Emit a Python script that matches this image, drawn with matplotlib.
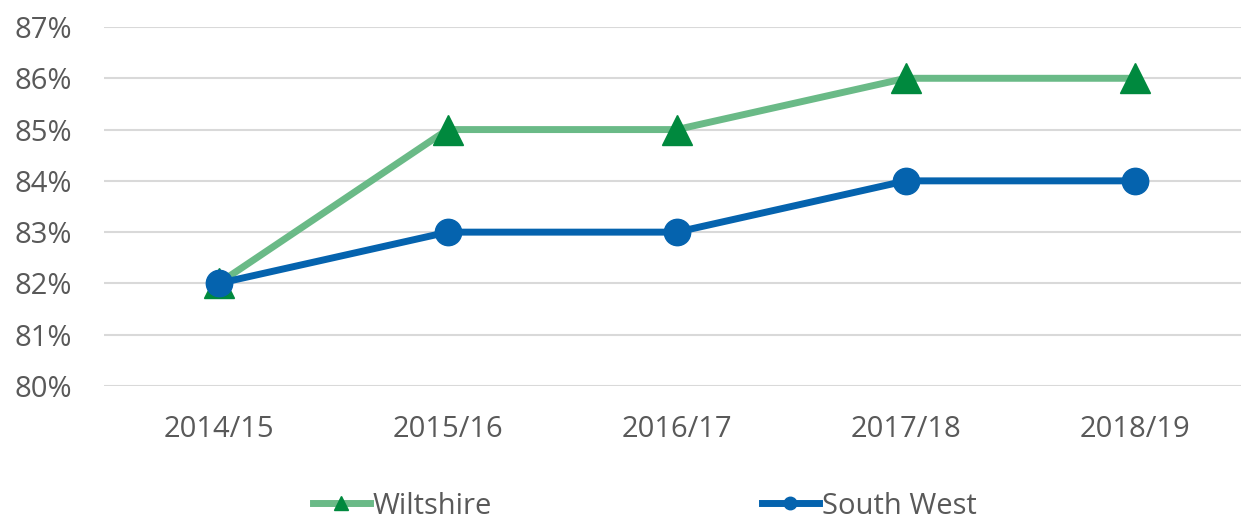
import matplotlib
matplotlib.use("Agg")
import matplotlib.pyplot as plt
from matplotlib.lines import Line2D
from matplotlib.ticker import FuncFormatter

years = ["2014/15", "2015/16", "2016/17", "2017/18", "2018/19"]
wiltshire = [82, 85, 85, 86, 86]
south_west = [82, 83, 83, 84, 84]
series_names = ["Wiltshire", "South West"]

plt.rcParams['font.family'] = ['Open Sans', 'DejaVu Sans']
text_col = "#595959"
green_line = "#6ABA87"
green_mark = "#00893E"
blue = "#0563AE"

W, H = 1241, 521
fig = plt.figure(figsize=(W / 100, H / 100), dpi=100)
ax = fig.add_axes([104 / W, 1 - 386 / H, (1241 - 104) / W, (386 - 27) / H])

x = list(range(len(years)))
ax.plot(x, wiltshire, color=green_line, lw=5, marker='^', ms=21,
        mfc=green_mark, mec=green_mark, zorder=3, solid_capstyle='round')
ax.plot(x, south_west, color=blue, lw=5, marker='o', ms=19,
        mfc=blue, mec=blue, zorder=4, solid_capstyle='round')

ax.set_xlim(-0.5, (1241 - 219) / 229)
ax.set_ylim(80, 87)
ax.set_yticks(range(80, 88))
ax.yaxis.set_major_formatter(FuncFormatter(lambda v, p: f"{int(v)}%"))
ax.set_xticks(x)
ax.set_xticklabels(years)
ax.grid(axis='y', color='#D9D9D9', lw=1.5)
ax.set_axisbelow(True)
for s in ax.spines.values():
    s.set_visible(False)
fs = 21
ax.tick_params(axis='both', length=0, labelsize=fs, colors=text_col)
ax.tick_params(axis='y', pad=23)
ax.tick_params(axis='x', pad=21)

handles = [
    Line2D([], [], color=green_line, lw=5, marker='^', ms=10, mfc=green_mark, mec=green_mark),
    Line2D([], [], color=blue, lw=5, marker='o', ms=9, mfc=blue, mec=blue),
]
fig.legend(handles, series_names, loc='center left', bbox_to_anchor=(313 / W, 1 - 506 / H),
           ncol=2, frameon=False, borderpad=0, borderaxespad=0, handlelength=1.95,
           handletextpad=0.1, columnspacing=9.25, fontsize=fs, labelcolor=text_col)

fig.savefig("out.png", dpi=100)
